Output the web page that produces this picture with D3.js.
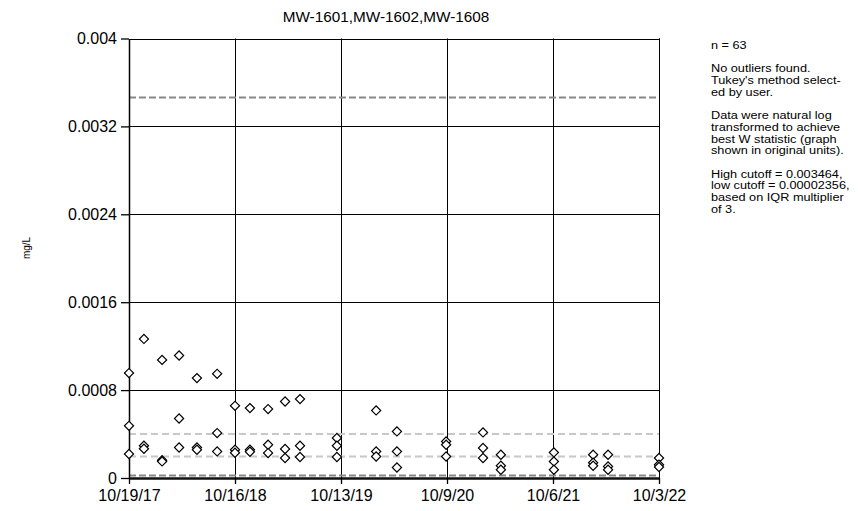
<!DOCTYPE html>
<html lang="en">
<head>
    <meta charset="UTF-8">
    <title>MW-1601,MW-1602,MW-1608</title>
    <style>
        body { margin: 0; background: #fff; }
        svg { display: block; font-family: "Liberation Sans", Arial, sans-serif; }
    </style>
</head>
<body>
    <svg id="chart"></svg>

    <script src="https://d3js.org/d3.v7.min.js"></script>

    <script>
// sampling events (x) and the three results read at each event (mg/L)
const sampleDates = ["10/19/17", "12/9/17", "2/9/18", "4/8/18", "6/8/18", "8/16/18", "10/16/18",
    "12/6/18", "2/6/19", "4/5/19", "5/26/19", "9/29/19", "2/10/20", "4/21/20", "10/6/20",
    "2/9/21", "4/11/21", "10/9/21", "2/20/22", "4/12/22", "10/3/22"];
const upperResults = [0.000955, 0.001266, 0.001075, 0.001115, 0.000909, 0.000948, 0.000657,
    0.000636, 0.000627, 0.000696, 0.000718, 0.000364, 0.000615, 0.000424, 0.000333,
    0.000415, 0.000212, 0.000233, 0.000212, 0.000212, 0.000182];
const middleResults = [0.000475, 0.000294, 0.000162, 0.000542, 0.000278, 0.000409, 0.000257,
    0.000257, 0.000303, 0.000264, 0.000294, 0.000294, 0.000242, 0.000242, 0.000303,
    0.000273, 0.000112, 0.000151, 0.000139, 0.000105, 0.000121];
const lowerResults = [0.000218, 0.000266, 0.000151, 0.000278, 0.000257, 0.000242, 0.00023,
    0.000239, 0.000227, 0.000182, 0.000191, 0.000191, 0.000196, 0.000096, 0.000196,
    0.000182, 0.000075, 0.000075, 0.000112, 0.000075, 0.0001];

// Tukey cutoffs (dark dashes) and the two light dashed lines
const cutoffValues = [0.003464, 0.00002356];
const lightLineValues = [0.0004, 0.000195];

const yTickValues = [0, 0.0008, 0.0016, 0.0024, 0.0032, 0.004];
const xTickLabels = ["10/19/17", "10/16/18", "10/13/19", "10/9/20", "10/6/21", "10/3/22"];

const noteLines = ["n = 63", "", "No outliers found.", "Tukey's method select-", "ed by user.", "",
    "Data were natural log", "transformed to achieve", "best W statistic (graph",
    "shown in original units).", "", "High cutoff = 0.003464,", "low cutoff = 0.00002356,",
    "based on IQR multiplier", "of 3."];

drawChart();

function drawChart() {
    const width = 858;
    const height = 511;
    const plot = { left: 129, right: 659, top: 38.5, bottom: 478 };

    const parseDate = d3.timeParse("%m/%d/%y");
    const tickDates = xTickLabels.map(parseDate);

    const x = d3.scaleTime()
        .domain([tickDates[0], tickDates[tickDates.length - 1]])
        .range([plot.left, plot.right]);

    const y = d3.scaleLinear()
        .domain([0, 0.004])
        .range([plot.bottom, plot.top]);

    const svg = d3.select("#chart")
        .attr("width", width)
        .attr("height", height);

    // horizontal grid lines
    svg.append("g")
        .selectAll("line")
        .data(yTickValues.slice(1))
        .enter()
        .append("line")
        .attr("x1", plot.left)
        .attr("x2", plot.right)
        .attr("y1", d => Math.round(y(d)) + 0.5)
        .attr("y2", d => Math.round(y(d)) + 0.5)
        .attr("stroke", "#000")
        .attr("stroke-width", 1);

    // vertical grid lines
    svg.append("g")
        .selectAll("line")
        .data(tickDates.slice(1))
        .enter()
        .append("line")
        .attr("x1", d => Math.round(x(d)) + 0.5)
        .attr("x2", d => Math.round(x(d)) + 0.5)
        .attr("y1", plot.top)
        .attr("y2", plot.bottom)
        .attr("stroke", "#000")
        .attr("stroke-width", 1);

    // light dashed lines
    svg.append("g")
        .selectAll("line")
        .data(lightLineValues)
        .enter()
        .append("line")
        .attr("x1", plot.left)
        .attr("x2", plot.right)
        .attr("y1", d => y(d))
        .attr("y2", d => y(d))
        .attr("stroke", "#c8c8c8")
        .attr("stroke-width", 2)
        .attr("stroke-dasharray", "7,4");

    // cutoff lines
    svg.append("g")
        .selectAll("line")
        .data(cutoffValues)
        .enter()
        .append("line")
        .attr("x1", plot.left)
        .attr("x2", plot.right)
        .attr("y1", d => y(d))
        .attr("y2", d => y(d))
        .attr("stroke", "#888")
        .attr("stroke-width", 2)
        .attr("stroke-dasharray", "7,3");

    // axes
    const yAxis = svg.append("g")
        .attr("transform", `translate(${plot.left},0)`)
        .call(d3.axisLeft(y)
            .tickValues(yTickValues)
            .tickSize(8)
            .tickSizeOuter(0)
            .tickPadding(4)
            .tickFormat(d3.format(".4~f")));

    const xAxis = svg.append("g")
        .attr("transform", `translate(0,${plot.bottom})`)
        .call(d3.axisBottom(x)
            .tickValues(tickDates)
            .tickSize(6)
            .tickSizeOuter(0)
            .tickPadding(6)
            .tickFormat((d, i) => xTickLabels[i]));

    [yAxis, xAxis].forEach(g => {
        g.selectAll("text")
            .style("font-size", "16px")
            .style("font-family", "Liberation Sans, Arial, sans-serif")
            .attr("fill", "#000");
        g.selectAll("line").attr("stroke", "#000").attr("stroke-width", 1.3);
    });
    yAxis.select(".domain").attr("stroke", "#000").attr("stroke-width", 1.5);
    xAxis.select(".domain").attr("stroke", "#111").attr("stroke-width", 2.5);

    // right border
    svg.append("line")
        .attr("x1", plot.right + 0.5)
        .attr("x2", plot.right + 0.5)
        .attr("y1", plot.top)
        .attr("y2", plot.bottom)
        .attr("stroke", "#000");

    // points
    const points = [];
    sampleDates.forEach((s, i) => {
        const date = parseDate(s);
        [upperResults[i], middleResults[i], lowerResults[i]].forEach(v => points.push({ date, value: v }));
    });

    const diamond = d3.symbol(d3.symbolSquare, 42);
    svg.append("g")
        .selectAll("path")
        .data(points)
        .enter()
        .append("path")
        .attr("d", diamond)
        .attr("transform", d => `translate(${x(d.date)},${y(d.value)}) rotate(45)`)
        .attr("fill", "#fff")
        .attr("stroke", "#000")
        .attr("stroke-width", 1.2);

    // title
    svg.append("text")
        .attr("x", 386)
        .attr("y", 22)
        .attr("text-anchor", "middle")
        .style("font-size", "15.3px")
        .text("MW-1601,MW-1602,MW-1608");

    // y label
    svg.append("text")
        .attr("transform", "translate(30,248) rotate(-90)")
        .attr("text-anchor", "middle")
        .style("font-size", "10px")
        .text("mg/L");

    // note block on the right (wide, short glyphs as in the reference)
    svg.append("g")
        .attr("transform", "translate(711,0) scale(1.2,1)")
        .selectAll("text")
        .data(noteLines)
        .enter()
        .append("text")
        .attr("x", 0)
        .attr("y", (d, i) => 49 + i * 11.7)
        .style("font-size", "10.6px")
        .text(d => d);
}
    </script>
</body>
</html>
